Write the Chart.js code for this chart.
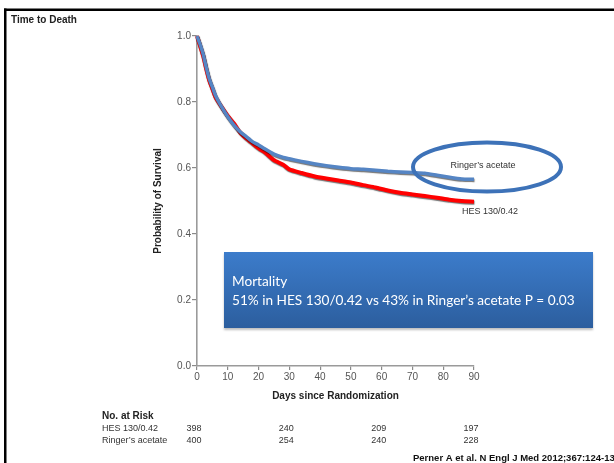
<!DOCTYPE html>
<html>
<head>
<meta charset="utf-8">
<script src="https://cdn.jsdelivr.net/npm/chart.js@4.4.0/dist/chart.umd.min.js"></script>
<style>
  html, body { margin: 0; padding: 0; background: #fff; overflow: hidden; }
  canvas { display: block; }
</style>
</head>
<body>
<canvas id="chart" width="614" height="463"></canvas>
<script>
// Kaplan-Meier estimates
const days = [0, 1, 2, 3, 4, 5, 6, 8, 10, 12, 14, 16, 18, 20, 22, 25, 28, 30, 34, 38, 42, 46, 50, 54, 58, 62, 66, 70, 74, 78, 82, 86, 90];
const ringerSurvival = [1.0, 0.975, 0.945, 0.905, 0.87, 0.845, 0.82, 0.785, 0.755, 0.73, 0.71, 0.695, 0.68, 0.67, 0.658, 0.642, 0.632, 0.628, 0.62, 0.613, 0.607, 0.602, 0.598, 0.596, 0.593, 0.59, 0.588, 0.586, 0.584, 0.578, 0.572, 0.567, 0.566];
const hesSurvival = [1.0, 0.97, 0.94, 0.9, 0.865, 0.84, 0.815, 0.785, 0.758, 0.735, 0.708, 0.69, 0.675, 0.66, 0.648, 0.624, 0.61, 0.596, 0.585, 0.575, 0.568, 0.562, 0.556, 0.548, 0.541, 0.532, 0.525, 0.52, 0.515, 0.51, 0.504, 0.5, 0.498];

const xTicks = [0, 10, 20, 30, 40, 50, 60, 70, 80, 90];
const yTicks = [0, 0.2, 0.4, 0.6, 0.8, 1.0];

// number at risk table
const riskDays = [0, 30, 60, 90];
const riskHes = [398, 240, 209, 197];
const riskRinger = [400, 254, 240, 228];

const AXIS_FONT = "'Liberation Sans', Arial, sans-serif";
const BOX_FONT = "Lato, 'Open Sans', sans-serif";

const toPoints = (xs, ys) => xs.map((x, i) => ({ x: x, y: ys[i] }));

// soft shadow under the survival curves
const curveShadow = {
    id: 'curveShadow',
    beforeDatasetDraw(chart) {
        const ctx = chart.ctx;
        ctx.save();
        ctx.shadowColor = 'rgba(0,0,0,0.55)';
        ctx.shadowOffsetY = 1.2;
        ctx.shadowOffsetX = 0.5;
        ctx.shadowBlur = 1;
    },
    afterDatasetDraw(chart) {
        chart.ctx.restore();
    }
};

const slideDecor = {
    id: 'slideDecor',
    afterDraw(chart) {
        const ctx = chart.ctx;
        const xs = chart.scales.x;
        ctx.save();

        // slide frame
        ctx.fillStyle = '#000';
        ctx.fillRect(4, 8.5, 610, 2.5);
        ctx.fillRect(4, 8.5, 2.5, 455);

        // slide title
        ctx.fillStyle = '#222';
        ctx.font = "bold 10px " + AXIS_FONT;
        ctx.textBaseline = 'middle';
        ctx.textAlign = 'left';
        ctx.fillText('Time to Death', 11, 20);

        // curve labels
        ctx.fillStyle = '#333';
        ctx.font = "9px " + AXIS_FONT;
        ctx.textAlign = 'center';
        ctx.fillText('Ringer\u2019s acetate', 483, 166);
        ctx.fillText('HES 130/0.42', 490, 212);

        // highlight ellipse
        ctx.strokeStyle = '#3d72b8';
        ctx.lineWidth = 4;
        ctx.beginPath();
        ctx.ellipse(487, 167, 74, 24.5, 0, 0, Math.PI * 2);
        ctx.stroke();

        // mortality box
        ctx.save();
        ctx.shadowColor = 'rgba(0,0,0,0.25)';
        ctx.shadowOffsetY = 1.5;
        ctx.shadowBlur = 2;
        const grad = ctx.createLinearGradient(0, 252, 0, 328);
        grad.addColorStop(0, '#3c7ccb');
        grad.addColorStop(1, '#2c5e9e');
        ctx.fillStyle = grad;
        ctx.fillRect(224, 252, 369, 76);
        ctx.restore();

        const line2 = '51% in HES 130/0.42 vs 43% in Ringer\u2019s acetate P = 0.03';
        ctx.font = "14px " + BOX_FONT;
        const fit = 14 * 343 / ctx.measureText(line2).width;
        ctx.font = fit.toFixed(2) + "px " + BOX_FONT;
        ctx.fillStyle = '#fff';
        ctx.textAlign = 'left';
        ctx.fillText('Mortality', 232, 282);
        ctx.fillText(line2, 232, 301);

        // number at risk
        ctx.fillStyle = '#222';
        ctx.font = "bold 10px " + AXIS_FONT;
        ctx.fillText('No. at Risk', 102, 416);
        ctx.font = "9px " + AXIS_FONT;
        ctx.fillStyle = '#333';
        ctx.fillText('HES 130/0.42', 102, 429);
        ctx.fillText('Ringer\u2019s acetate', 102, 441);
        ctx.textAlign = 'center';
        riskDays.forEach((d, i) => {
            const px = xs.getPixelForValue(d) - 3;
            ctx.fillText(String(riskHes[i]), px, 429);
            ctx.fillText(String(riskRinger[i]), px, 441);
        });

        // citation (runs off the right edge, as on the slide)
        ctx.fillStyle = '#111';
        ctx.font = "bold 9.5px " + AXIS_FONT;
        ctx.textAlign = 'left';
        ctx.textBaseline = 'alphabetic';
        ctx.fillText('Perner A et al. N Engl J Med 2012;367:124-134', 413, 461);

        ctx.restore();
    }
};

new Chart(document.getElementById('chart'), {
    type: 'line',
    data: {
        datasets: [
            {
                label: 'Ringer\u2019s acetate',
                data: toPoints(days, ringerSurvival),
                borderColor: '#5585c4',
                borderWidth: 3.5,
                pointRadius: 0,
                tension: 0.2,
                order: 0
            },
            {
                label: 'HES 130/0.42',
                data: toPoints(days, hesSurvival),
                borderColor: '#ff0000',
                borderWidth: 4,
                pointRadius: 0,
                tension: 0.2,
                order: 1
            }
        ]
    },
    options: {
        responsive: false,
        animation: false,
        devicePixelRatio: 1,
        clip: false,
        layout: { padding: { left: 140, right: 140, top: 36, bottom: 61 } },
        plugins: {
            legend: { display: false },
            tooltip: { enabled: false }
        },
        scales: {
            x: {
                type: 'linear',
                min: 0,
                max: 90,
                afterFit: s => { s.height = 36; },
                afterBuildTicks: s => { s.ticks = xTicks.map(v => ({ value: v })); },
                grid: { display: true, drawOnChartArea: false, drawTicks: true, tickLength: 4, color: '#8a8a8a', lineWidth: 1.2 },
                border: { display: true, color: '#9a9a9a', width: 1.6 },
                ticks: {
                    padding: 1,
                    color: '#555',
                    maxRotation: 0,
                    font: { family: AXIS_FONT, size: 10 }
                },
                title: {
                    display: true,
                    text: 'Days since Randomization',
                    color: '#222',
                    padding: 0,
                    font: { family: AXIS_FONT, size: 10, weight: 'bold' }
                }
            },
            y: {
                min: 0,
                max: 1,
                afterFit: s => { s.width = 57; },
                afterBuildTicks: s => { s.ticks = yTicks.map(v => ({ value: v })); },
                grid: { display: true, drawOnChartArea: false, drawTicks: true, tickLength: 5, color: '#8a8a8a', lineWidth: 1.2 },
                border: { display: true, color: '#9a9a9a', width: 1.6 },
                ticks: {
                    padding: 1,
                    color: '#555',
                    font: { family: AXIS_FONT, size: 10 },
                    callback: v => Number(v).toFixed(1)
                },
                title: {
                    display: true,
                    text: 'Probability of Survival',
                    color: '#222',
                    padding: { top: 12, bottom: 0 },
                    font: { family: AXIS_FONT, size: 10, weight: 'bold' }
                }
            }
        }
    },
    plugins: [curveShadow, slideDecor]
});
</script>
</body>
</html>
